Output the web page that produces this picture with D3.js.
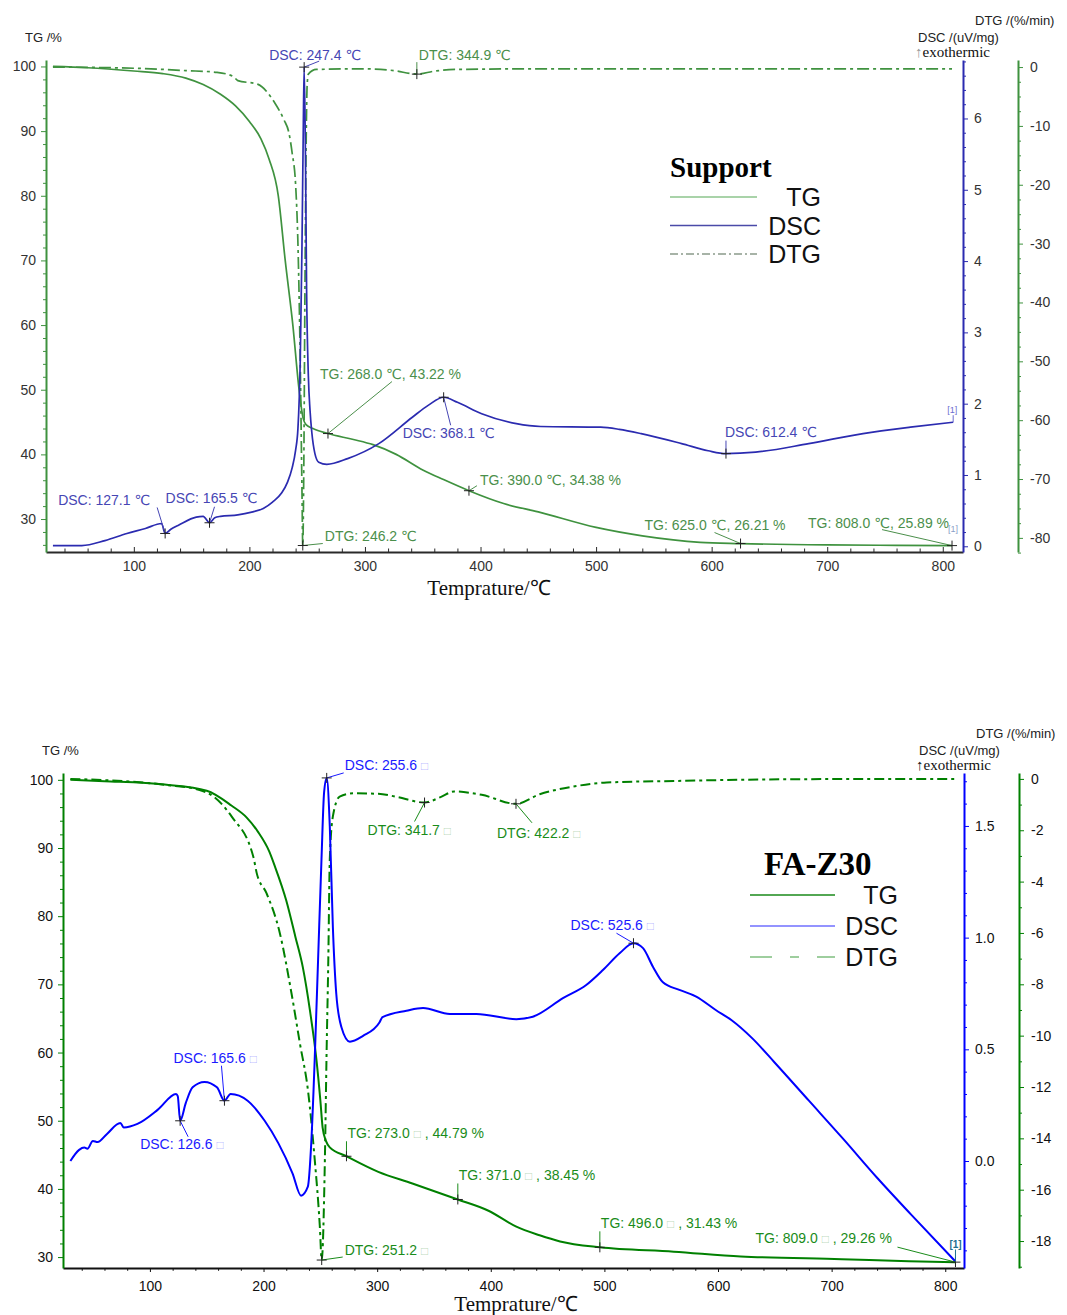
<!DOCTYPE html>
<html>
<head>
<meta charset="utf-8">
<script src="https://cdn.jsdelivr.net/npm/d3@7"></script>
<style>
body { margin: 0; background: #fff; }
svg text { font-family: "Liberation Sans", Arial, "DejaVu Sans", sans-serif; }
.serif { font-family: "Liberation Serif", "Times New Roman", serif !important; }
</style>
</head>
<body>
<svg id="chart" width="1067" height="1315"></svg>
<script>
// ---------- Support sample ----------
var supportTG = [[30,100],[60,99.8],[100,99.3],[125,98.9],[145,98.2],[160,97.2],[175,95.7],[188,93.9],[200,91.5],
  [210,88.8],[217,85.7],[225,80],[231,70],[237.6,60],[243,50],[246.5,45.6],[249,44.6],[255,44],[268,43.22],
  [290,42.3],[307,41.5],[327,40],[350,37.6],[368,36.1],[390,34.38],[420,32.4],[450,31.1],[500,28.7],
  [540,27.4],[590,26.4],[625,26.21],[700,26.0],[760,25.93],[808,25.89]];
var supportDSC = [[30,0.01],[55,0.01],[75,0.08],[94,0.18],[110,0.25],[124,0.32],[127.1,0.18],[132,0.24],
  [139,0.3],[154,0.41],[160,0.42],[165.5,0.33],[170,0.4],[175,0.42],[190,0.44],[202,0.48],[212,0.53],
  [220,0.62],[228,0.75],[233,0.9],[237,1.1],[240,1.35],[242,1.65],[244,2.6],[245.5,4.2],[246.6,5.8],
  [247.4,6.72],[248.5,5.5],[249.5,3.6],[251,2.4],[252.5,1.9],[254,1.6],[256.7,1.3],[260,1.18],[267,1.15],
  [285,1.23],[312,1.44],[341,1.81],[355,1.98],[368.1,2.09],[380,2.02],[401,1.86],[431,1.72],[452,1.68],
  [504,1.67],[520,1.64],[539,1.58],[574,1.44],[597,1.34],[612.4,1.30],[638,1.32],[684,1.44],[731,1.58],
  [772,1.67],[809,1.74]];
var supportDTG = [[30,0],[100,-0.2],[145,-0.6],[172,-0.9],[186,-1.6],[190,-2.3],[207,-2.9],[222,-6.1],
  [230,-9],[234,-11],[237,-14.6],[240,-20],[242,-30],[244,-50],[245.5,-72],[246.2,-81.3],[247,-70],
  [248,-40],[249,-15],[250,-3],[251,-1.2],[258,-0.4],[300,-0.3],[325,-0.6],[344.9,-1.2],[360,-0.7],
  [380,-0.4],[450,-0.3],[600,-0.3],[808,-0.3]];
var supportNotes = [
  ["DSC", 247.4, 6.72, "DSC: 247.4 ℃"],
  ["DTG", 344.9, -1.2, "DTG: 344.9 ℃"],
  ["TG", 268.0, 43.22, "TG: 268.0 ℃, 43.22 %"],
  ["DSC", 368.1, 2.09, "DSC: 368.1 ℃"],
  ["TG", 390.0, 34.38, "TG: 390.0 ℃, 34.38 %"],
  ["DSC", 612.4, 1.30, "DSC: 612.4 ℃"],
  ["TG", 625.0, 26.21, "TG: 625.0 ℃, 26.21 %"],
  ["TG", 808.0, 25.89, "TG: 808.0 ℃, 25.89 %"],
  ["DSC", 127.1, 0.18, "DSC: 127.1 ℃"],
  ["DSC", 165.5, 0.33, "DSC: 165.5 ℃"],
  ["DTG", 246.2, -81.3, "DTG: 246.2 ℃"]
];

// ---------- FA-Z30 sample ----------
var fazTG = [[30,100],[60,99.8],[113,99.3],[150,98.4],[172,96.2],[185,94.5],[195,92.4],[205,89.5],[210,87.3],
  [220,82.3],[228,77],[234.6,72.5],[241,66],[246.6,58.9],[250,53],[252,49],[255,47],[258.3,46.1],[273,44.79],
  [301,42.5],[331,40.8],[371,38.45],[398,36.8],[422,34.5],[443,33.2],[461,32.3],[496,31.43],[561,30.8],
  [620,30.1],[709,29.7],[768,29.4],[809,29.26]];
var fazDSC = [[30,0],[37.7,0.05],[42.3,0.06],[45,0.055],[49.8,0.09],[54,0.085],[62,0.12],[74,0.17],[77,0.15],
  [89,0.166],[107,0.23],[123,0.30],[124.5,0.29],[126.6,0.18],[131.6,0.26],[137.6,0.33],[148,0.354],
  [159,0.33],[165.6,0.27],[171,0.30],[186,0.27],[201,0.18],[213,0.08],[225.5,-0.055],[233,-0.155],
  [239,-0.115],[242,0.08],[245,0.45],[248,0.9],[251,1.35],[253.3,1.65],[255.6,1.715],[258.3,1.50],
  [261,1.05],[264,0.75],[268.5,0.60],[276,0.534],[287.6,0.56],[302,0.62],[304.7,0.644],[325.8,0.673],
  [340.4,0.685],[364,0.658],[387.4,0.658],[422.5,0.635],[437,0.646],[463.5,0.729],[484,0.788],
  [498.7,0.855],[513.4,0.93],[525.6,0.975],[534,0.953],[542.7,0.87],[551.5,0.80],[566,0.766],
  [580.8,0.736],[598,0.676],[612,0.63],[630,0.55],[650,0.44],[680,0.27],[710,0.1],[740,-0.075],
  [770,-0.24],[809,-0.45]];
var fazDTG = [[30,0],[113,-0.23],[143.7,-0.43],[156,-0.69],[172,-1.47],[191,-3.03],[194,-3.67],[202.6,-4.45],
  [214.3,-6.0],[224.6,-8.35],[232,-10.3],[239.3,-12.2],[245,-14.8],[249.5,-17.4],[251.2,-18.74],
  [254,-14.8],[255.4,-10.9],[257,-7.05],[258.3,-3.15],[261,-1.47],[267,-0.69],[279,-0.56],[301,-0.58],
  [316.4,-0.69],[341.7,-0.92],[355.8,-0.71],[367.8,-0.49],[392,-0.62],[422.2,-0.97],[443,-0.6],
  [472.5,-0.3],[502,-0.14],[561.3,-0.08],[680,-0.01],[809.6,0]];
var fazNotes = [
  ["DSC", 255.6, 1.715, "DSC: 255.6 □"],
  ["DTG", 341.7, -0.92, "DTG: 341.7 □"],
  ["DTG", 422.2, -0.97, "DTG: 422.2 □"],
  ["DSC", 525.6, 0.975, "DSC: 525.6 □"],
  ["DSC", 165.6, 0.27, "DSC: 165.6 □"],
  ["DSC", 126.6, 0.18, "DSC: 126.6 □"],
  ["TG", 273.0, 44.79, "TG: 273.0 □ , 44.79 %"],
  ["TG", 371.0, 38.45, "TG: 371.0 □ , 38.45 %"],
  ["TG", 496.0, 31.43, "TG: 496.0 □ , 31.43 %"],
  ["TG", 809.0, 29.26, "TG: 809.0 □ , 29.26 %"],
  ["DTG", 251.2, -18.74, "DTG: 251.2 □"]
];

// ---------- tick labels ----------
var tempTicks = [100, 200, 300, 400, 500, 600, 700, 800];
var tgTicks = [30, 40, 50, 60, 70, 80, 90, 100];
var supportDSCTicks = [0, 1, 2, 3, 4, 5, 6];
var supportDTGTicks = [0, -10, -20, -30, -40, -50, -60, -70, -80];
var fazDSCTicks = [0, 0.5, 1.0, 1.5];
var fazDTGTicks = [0, -2, -4, -6, -8, -10, -12, -14, -16, -18];
var legendNames = ["TG", "DSC", "DTG"];

// label placement: [text dx, text dy, leader dx, leader dy] from the marker
var supportPlace = [[-35,-7,15,-6],[2,-14,0,-12],[-8,-55,64,-52],[-41,41,7,28],[11,-6,8,-5],[-1,-17,0,-13],
  [-96,-14,-26,-11],[-144,-18,-70,-16],[-107,-28,-8,-26],[-44,-20,5,-16],[22,-5,20,-2]];
var fazPlace = [[18,-8,17,-5],[-57,32,-10,19],[-19,34,16,19],[-63,-13,-17,-10],[-51,-38,-3,-35],[-40,28,8,16],
  [1,-18,0,-15],[1,-19,0,-16],[1,-19,0,-16],[-200,-19,-58,-15],[23,-5,21,-3]];

var svg = d3.select("#chart");
var plain = function(d) { return String(d); };   // hyphen minus, like the original

function styleAxis(g, color, w, textColor) {
  g.select(".domain").attr("stroke", color).attr("stroke-width", w);
  g.selectAll(".tick line").attr("stroke", color).attr("stroke-width", 1);
  g.selectAll(".tick text").attr("fill", textColor).attr("font-size", 14);
}

function minorTicks(lo, hi, step, major) {
  return d3.range(lo, hi + step / 2, step).filter(function(v) {
    return !major.some(function(m) { return Math.abs(m - v) < 1e-6; });
  });
}

function drawPanel(p) {
  var g = svg.append("g");
  var x = d3.scaleLinear().domain(p.xDomain).range([p.left, p.right]);
  var ys = {
    TG: d3.scaleLinear().domain(p.tgDomain).range([p.bottom, p.top]),
    DSC: d3.scaleLinear().domain(p.dscDomain).range([p.bottom, p.top]),
    DTG: d3.scaleLinear().domain(p.dtgDomain).range([p.bottom, p.top])
  };

  // x axis
  var gx = g.append("g").attr("transform", "translate(0," + p.bottom + ")")
    .call(d3.axisBottom(x).tickValues(tempTicks).tickSizeInner(p.xTick).tickSizeOuter(0).tickPadding(9).tickFormat(plain));
  styleAxis(gx, p.axisColor, 2, p.textColor);
  var gxm = g.append("g").attr("transform", "translate(0," + p.bottom + ")")
    .call(d3.axisBottom(x).tickValues(minorTicks(40, 800, 20, tempTicks)).tickSize(p.xTick * 0.7).tickFormat(""));
  gxm.select(".domain").remove();
  gxm.selectAll("line").attr("stroke", p.axisColor);

  // left TG axis
  var gl = g.append("g").attr("transform", "translate(" + p.left + ",0)")
    .call(d3.axisLeft(ys.TG).tickValues(tgTicks).tickSizeInner(5).tickSizeOuter(0).tickPadding(5).tickFormat(plain));
  styleAxis(gl, p.green, 2, p.textColor);
  var glm = g.append("g").attr("transform", "translate(" + p.left + ",0)")
    .call(d3.axisLeft(ys.TG).tickValues(minorTicks(26, 100, 2, tgTicks).filter(function(v) { return v > p.tgDomain[0]; })).tickSize(3).tickFormat(""));
  glm.select(".domain").remove();
  glm.selectAll("line").attr("stroke", p.green);

  // right DSC axis
  var gd = g.append("g").attr("transform", "translate(" + p.dscX + ",0)")
    .call(d3.axisRight(ys.DSC).tickValues(p.dscTicks).tickSizeInner(5).tickSizeOuter(0).tickPadding(6).tickFormat(p.dscFormat));
  styleAxis(gd, p.blue, 2, p.textColor);
  var gdm = g.append("g").attr("transform", "translate(" + p.dscX + ",0)")
    .call(d3.axisRight(ys.DSC).tickValues(minorTicks(p.dscMinor[0], p.dscMinor[1], p.dscMinor[2], p.dscTicks)).tickSize(3).tickFormat(""));
  gdm.select(".domain").remove();
  gdm.selectAll("line").attr("stroke", p.blue);

  // right DTG axis
  var gt = g.append("g").attr("transform", "translate(" + p.dtgX + ",0)")
    .call(d3.axisRight(ys.DTG).tickValues(p.dtgTicks).tickSizeInner(5).tickSizeOuter(0).tickPadding(7).tickFormat(plain));
  styleAxis(gt, p.green, 2, p.textColor);
  var gtm = g.append("g").attr("transform", "translate(" + p.dtgX + ",0)")
    .call(d3.axisRight(ys.DTG).tickValues(minorTicks(p.dtgMinor[0], p.dtgMinor[1], p.dtgMinor[2], p.dtgTicks)).tickSize(3).tickFormat(""));
  gtm.select(".domain").remove();
  gtm.selectAll("line").attr("stroke", p.green);

  // axis titles
  g.append("text").attr("x", p.left - 21).attr("y", p.top - 18).attr("font-size", 13).attr("fill", "#222").text("TG /%");
  g.append("text").attr("x", p.dscX + 12).attr("y", p.top - 35).attr("font-size", 13).attr("fill", "#222").text("DTG /(%/min)");
  g.append("text").attr("x", p.dscX - 45).attr("y", p.top - 18).attr("font-size", 13).attr("fill", "#222").text("DSC /(uV/mg)");
  var ex = g.append("text").attr("class", "serif").attr("x", p.dscX - 48).attr("y", p.top - 3).attr("font-size", 15).attr("fill", "#111");
  ex.append("tspan").attr("fill", p.arrowColor).text("↑");
  ex.append("tspan").text("exothermic");
  g.append("text").attr("class", "serif").attr("x", p.xLabelX).attr("y", p.bottom + 43)
    .attr("text-anchor", "middle").attr("font-size", 21).attr("fill", "#111").text("Temprature/℃");

  // curves
  function line(key) {
    return d3.line().x(function(d) { return x(d[0]); }).y(function(d) { return ys[key](d[1]); }).curve(d3.curveMonotoneX);
  }
  g.append("path").datum(p.tg).attr("d", line("TG")).attr("fill", "none")
    .attr("stroke", p.green).attr("stroke-width", p.lw);
  g.append("path").datum(p.dtg).attr("d", line("DTG")).attr("fill", "none")
    .attr("stroke", p.green).attr("stroke-width", p.lw).attr("stroke-dasharray", p.dash);
  g.append("path").datum(p.dsc).attr("d", line("DSC")).attr("fill", "none")
    .attr("stroke", p.blue).attr("stroke-width", p.lw);

  // annotations
  p.notes.forEach(function(n, i) {
    var mx = x(n[1]), my = ys[n[0]](n[2]), pl = p.place[i];
    var col = n[0] === "DSC" ? p.noteBlue : p.noteGreen;
    g.append("line").attr("x1", mx).attr("y1", my).attr("x2", mx + pl[2]).attr("y2", my + pl[3])
      .attr("stroke", col).attr("stroke-width", 1);
    g.append("path").attr("d", "M" + (mx - 5) + "," + my + "H" + (mx + 5) + "M" + mx + "," + (my - 5) + "V" + (my + 5))
      .attr("stroke", "#222").attr("stroke-width", 1);
    var t = g.append("text").attr("x", mx + pl[0]).attr("y", my + pl[1]).attr("font-size", 14).attr("fill", col);
    var parts = n[3].split("□");
    parts.forEach(function(s, k) {
      t.append("tspan").text(s);
      if (k < parts.length - 1) t.append("tspan").attr("fill-opacity", 0.35).attr("font-size", 12).text("□");
    });
  });

  // end markers [1]
  var lastDSC = p.dsc[p.dsc.length - 1], lastTG = p.tg[p.tg.length - 1];
  var ex1 = x(lastDSC[0]), ey1 = ys.DSC(lastDSC[1]);
  g.append("line").attr("x1", ex1).attr("x2", ex1).attr("y1", ey1).attr("y2", ey1 - p.endDy + 2)
    .attr("stroke", p.endColor).attr("stroke-width", 1);
  g.append("text").attr("x", ex1 - 6).attr("y", ey1 - p.endDy).attr("font-size", p.endSize)
    .attr("font-weight", p.endWeight).attr("fill", p.endColor).text("[1]");
  if (p.endTG) {
    g.append("text").attr("x", x(lastTG[0]) - 4).attr("y", ys.TG(lastTG[1]) - 14)
      .attr("font-size", 9).attr("fill", "#8aa0c8").text("[1]");
  }

  // legend
  var lg = g.append("g");
  lg.append("text").attr("class", "serif").attr("x", p.legend.x).attr("y", p.legend.y)
    .attr("font-size", p.legend.titleSize).attr("font-weight", "bold").attr("fill", "#000").text(p.title);
  legendNames.forEach(function(name, i) {
    var yy = p.legend.y + p.legend.first + i * p.legend.step;
    lg.append("line").attr("x1", p.legend.x0).attr("x2", p.legend.x1).attr("y1", yy).attr("y2", yy)
      .attr("stroke", p.legend.colors[i]).attr("stroke-width", 1.5)
      .attr("stroke-dasharray", i === 2 ? p.legend.dash : null);
    lg.append("text").attr("x", p.legend.tx).attr("y", yy + 9).attr("text-anchor", "end")
      .attr("font-size", 25).attr("fill", "#111").text(name);
  });
}

drawPanel({
  title: "Support",
  tg: supportTG, dsc: supportDSC, dtg: supportDTG, notes: supportNotes, place: supportPlace,
  left: 46, right: 963, top: 60, bottom: 552, dscX: 963, dtgX: 1018,
  xDomain: [24, 817.5], tgDomain: [24.9, 101], dscDomain: [-0.08, 6.82], dtgDomain: [-82.4, 1.2],
  dscTicks: supportDSCTicks, dscFormat: plain, dscMinor: [0, 6.8, 0.2],
  dtgTicks: supportDTGTicks, dtgMinor: [-82.5, 0, 2.5],
  xTick: -5, xLabelX: 489,
  axisColor: "#2a2a2a", green: "#3f923f", blue: "#2b2bb0", textColor: "#333",
  noteGreen: "#4b8f4b", noteBlue: "#4646b4", arrowColor: "#999",
  endColor: "#6d6dd0", endDy: 9, endSize: 9, endWeight: "normal", endTG: true,
  lw: 1.7, dash: "12,4,3,4",
  legend: {x: 670, y: 177, titleSize: 29, first: 20, step: 28.5, x0: 670, x1: 757, tx: 821,
    colors: ["#8cc48c", "#4a4aa8", "#8a9a8a"], dash: "8,3,2,3"}
});

drawPanel({
  title: "FA-Z30",
  tg: fazTG, dsc: fazDSC, dtg: fazDTG, notes: fazNotes, place: fazPlace,
  left: 63, right: 964, top: 773, bottom: 1268, dscX: 964, dtgX: 1019,
  xDomain: [23.5, 816.5], tgDomain: [28.4, 101], dscDomain: [-0.479, 1.737], dtgDomain: [-19.05, 0.23],
  dscTicks: fazDSCTicks, dscFormat: d3.format(".1f"), dscMinor: [-0.4, 1.7, 0.1],
  dtgTicks: fazDTGTicks, dtgMinor: [-19, 0, 1],
  xTick: 4, xLabelX: 516,
  axisColor: "#111", green: "#008000", blue: "#0000ff", textColor: "#111",
  noteGreen: "#1a8c1a", noteBlue: "#1a1aff", arrowColor: "#111",
  endColor: "#1f6f8f", endDy: 14, endSize: 10, endWeight: "bold", endTG: false,
  lw: 2, dash: "10,4,3,4",
  legend: {x: 764, y: 875, titleSize: 33, first: 20, step: 31, x0: 750, x1: 835, tx: 898,
    colors: ["#1a8a1a", "#6f6fff", "#7fbf7f"], dash: "22,18,9,18"}
});
</script>
</body>
</html>
